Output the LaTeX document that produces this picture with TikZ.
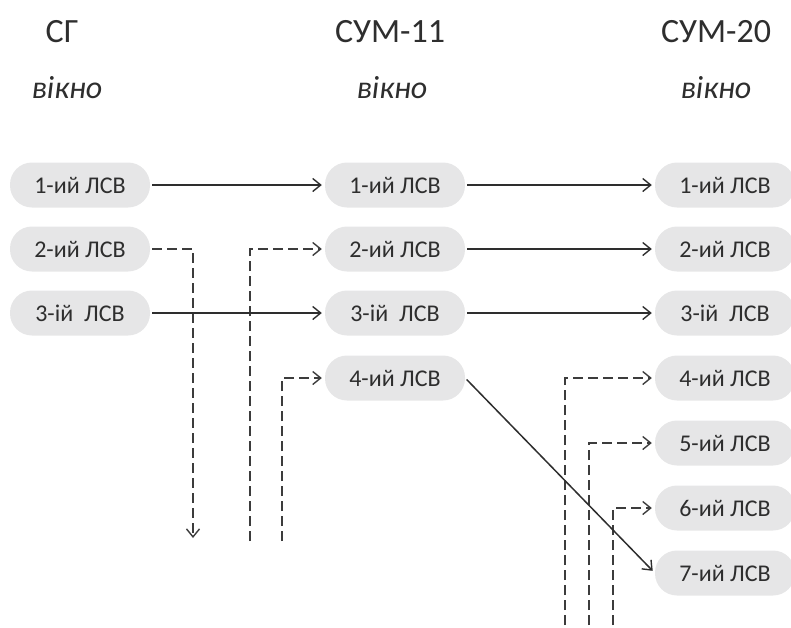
\documentclass[tikz,border=0pt]{standalone}
\usepackage{fontspec}
\setmainfont{Carlito}
\usetikzlibrary{arrows.meta}
\definecolor{pillgray}{HTML}{E6E6E7}
\definecolor{inkgray}{HTML}{2E2E2E}
\definecolor{dashgray}{HTML}{3C3C3C}
\tikzset{
  pill/.style={fill=pillgray, rounded corners=22pt, minimum width=140pt,
    minimum height=45pt, inner sep=0pt, text=inkgray,
    font=\fontsize{24}{26}\selectfont},
  head/.style={text=inkgray, font=\fontsize{34}{36}\selectfont, inner sep=0pt},
  window/.style={text=inkgray, font=\fontsize{32}{34}\selectfont\itshape, inner sep=0pt},
  tip/.style={-{Straight Barb[length=8pt,width=13pt,line width=1.4pt]}},
  link/.style={draw=inkgray, line width=1.5pt, tip, shorten >=3pt, shorten <=2pt},
  dlink/.style={draw=dashgray, line width=1.5pt, dash pattern=on 10pt off 5pt},
}
\begin{document}
\begin{tikzpicture}[x=1pt, y=-1pt]
  \useasboundingbox (0,0) rectangle (791,627);
  \clip (0,0) rectangle (791,627);

  % column headings
  \node[head] (hSG) at (62,32) {СГ};
  \node[head] (hS11) at (390,32) {СУМ-11};
  \node[head] (hS20) at (716,32) {СУМ-20};
  \node[window] (wSG) at (67,88) {вікно};
  \node[window] (wS11) at (392,88) {вікно};
  \node[window] (wS20) at (716,88) {вікно};

  % channel blocks
  \node[pill] (L1) at (80,185) {1-ий ЛСВ};
  \node[pill] (L2) at (80,249) {2-ий ЛСВ};
  \node[pill] (L3) at (80,313) {3-ій\ \ ЛСВ};

  \node[pill] (M1) at (395,185) {1-ий ЛСВ};
  \node[pill] (M2) at (395,249) {2-ий ЛСВ};
  \node[pill] (M3) at (395,313) {3-ій\ \ ЛСВ};
  \node[pill] (M4) at (395,378) {4-ий ЛСВ};

  \node[pill] (R1) at (725,185) {1-ий ЛСВ};
  \node[pill] (R2) at (725,249) {2-ий ЛСВ};
  \node[pill] (R3) at (725,313) {3-ій\ \ ЛСВ};
  \node[pill] (R4) at (725,378) {4-ий ЛСВ};
  \node[pill] (R5) at (725,443) {5-ий ЛСВ};
  \node[pill] (R6) at (725,508) {6-ий ЛСВ};
  \node[pill] (R7) at (725,573) {7-ий ЛСВ};

  % free ends of the dashed feeds
  \coordinate (dOut) at (193,538);
  \coordinate (dM2) at (250,541);
  \coordinate (dM4) at (282,541);
  \coordinate (dR4) at (565,640);
  \coordinate (dR5) at (589,640);
  \coordinate (dR6) at (613,640);

  % dashed feeds
  \draw[dlink, tip, shorten <=2pt] (L2.east) -| (dOut);
  \draw[dlink, tip, shorten >=3pt] (dM2) |- (M2.west);
  \draw[dlink, tip, shorten >=3pt] (dM4) |- (M4.west);
  \draw[dlink, tip, shorten >=3pt] (dR4) |- (R4.west);
  \draw[dlink, tip, shorten >=3pt] (dR5) |- (R5.west);
  \draw[dlink, tip, shorten >=3pt] (dR6) |- (R6.west);

  % solid links
  \draw[link] (L1) -- (M1);
  \draw[link] (L3) -- (M3);
  \draw[link] (M1) -- (R1);
  \draw[link] (M2) -- (R2);
  \draw[link] (M3) -- (R3);
  \draw[link] (M4.east) -- (R7.west);
\end{tikzpicture}
\end{document}
